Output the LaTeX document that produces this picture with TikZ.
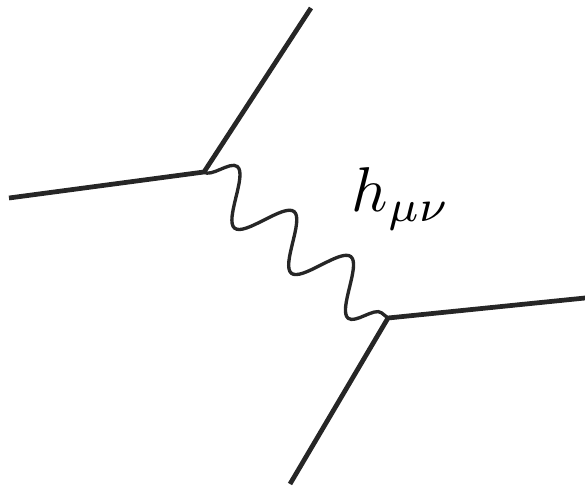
\documentclass[tikz,border=0pt]{standalone}
\usetikzlibrary{decorations.pathmorphing}

\begin{document}
\begin{tikzpicture}[x=0.02cm, y=-0.02cm]
                \useasboundingbox (0,0) rectangle (585,487);
                % vertices and outer ends
                \coordinate (v1) at (204,172);
                \coordinate (v2) at (388,318);
                \coordinate (in1) at (9,198);
                \coordinate (out1) at (311,8);
                \coordinate (in2) at (585,298);
                \coordinate (out2) at (290,484);
                % fermion lines
                \draw[line width=2.7pt, black!85] (in1) -- (v1) -- (out1);
                \draw[line width=2.7pt, black!85] (in2) -- (v2) -- (out2);
                % graviton
                \draw[line width=1.9pt, black!85, decorate,
                      decoration={snake, amplitude=0.5cm, segment length=1.45cm}] (v1) -- (v2);
                \node[scale=3.6] (lbl) at (401,199) {$h_{\mu\nu}$};
            \end{tikzpicture}
\end{document}
